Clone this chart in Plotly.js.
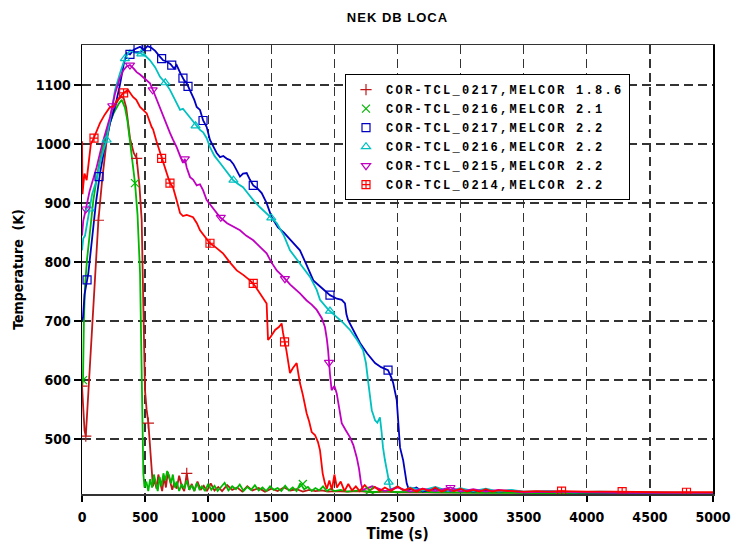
<!DOCTYPE html>
<html>
<head>
<meta charset="utf-8">
<script src="https://cdn.plot.ly/plotly-3.0.1.min.js"></script>
<style>
  html, body { margin: 0; padding: 0; background: #fff; }
  #chart { width: 731px; height: 546px; }
  .legendtext { letter-spacing: 2.3px; }
  .gtitle { letter-spacing: 1px; }
</style>
</head>
<body>
<div id="chart"></div>
<script>
// ---- data: [time (s), temperature (K)] ----
const seriesNames = [
  "COR-TCL_0217,MELCOR 1.8.6",
  "COR-TCL_0216,MELCOR 2.1",
  "COR-TCL_0217,MELCOR 2.2",
  "COR-TCL_0216,MELCOR 2.2",
  "COR-TCL_0215,MELCOR 2.2",
  "COR-TCL_0214,MELCOR 2.2"
];

const tcl0217_m186 = [[0,590],[10,560],[20,515],[30,505],[45,560],[60,615],[80,690],[100,760],[130,871],[160,940],[195,1005],[230,1045],[260,1065],[290,1076],[310,1080],[330,1078],[350,1062],[380,1010],[410,985],[433,976],[455,930],[473,871],[485,740],[499,583],[512,550],[526,527],[540,485],[552,442],[562,420],[575,432],[590,416],[605,440],[620,424],[635,412],[650,436],[665,418],[680,444],[697,430],[715,414],[730,426],[750,416],[770,438],[790,420],[810,412],[830,442],[850,414],[870,424],[890,412],[915,428],[940,414],[965,421],[990,412],[1020,425],[1050,413],[1080,419],[1110,412],[1150,422],[1190,414],[1230,418],[1270,411],[1310,420],[1350,413],[1400,417],[1450,411],[1500,416],[1550,412],[1600,418],[1650,413],[1700,415],[1750,411],[1800,414],[1850,412],[1900,413],[1950,411],[2000,412],[2100,411],[2200,412],[2300,410],[2400,411],[2500,410],[2700,410],[2900,409],[3100,410],[3300,409],[3500,409],[3700,409],[3900,408],[4100,409],[4300,408],[4500,408],[4700,408],[5000,408]];

const tcl0216_m21 = [[0,588],[8,600],[15,700],[24,760],[40,805],[60,850],[90,905],[130,960],[170,1000],[210,1030],[250,1052],[290,1068],[315,1075],[340,1062],[360,1040],[380,1005],[400,972],[420,934],[440,880],[460,781],[473,612],[486,442],[495,418],[510,428],[525,412],[540,432],[555,418],[570,440],[585,425],[600,412],[615,436],[630,420],[645,442],[660,430],[675,446],[690,438],[705,425],[720,440],[735,418],[750,428],[770,412],[790,424],[810,416],[830,430],[850,414],[870,422],[890,412],[910,426],[930,415],[950,420],[975,412],[1000,424],[1025,414],[1050,421],[1075,412],[1100,418],[1130,426],[1160,413],[1190,420],[1220,415],[1250,423],[1280,412],[1310,419],[1340,414],[1370,422],[1400,413],[1430,418],[1460,412],[1490,420],[1520,414],[1550,417],[1580,412],[1610,421],[1640,413],[1670,418],[1700,412],[1730,425],[1760,415],[1790,419],[1820,412],[1850,417],[1880,413],[1910,420],[1940,412],[1970,416],[2000,412],[2050,414],[2100,411],[2200,413],[2300,410],[2400,412],[2500,410],[2600,411],[2800,410],[3000,409],[3200,409],[3400,409],[3600,408],[3800,408],[4000,408],[4200,408],[4400,408],[4600,408],[4800,408],[5000,408]];

const tcl0217_m22 = [[0,700],[8,707],[20,745],[50,781],[80,840],[110,900],[143,951],[180,995],[222,1036],[262,1063],[300,1100],[330,1135],[354,1154],[380,1152],[410,1160],[440,1163],[460,1165],[490,1160],[520,1166],[552,1163],[580,1158],[610,1150],[643,1142],[670,1140],[700,1136],[730,1128],[750,1134],[780,1120],[810,1108],[830,1103],[860,1090],[890,1075],[909,1063],[935,1058],[960,1040],[988,1029],[1014,1007],[1040,995],[1067,985],[1094,978],[1120,980],[1150,975],[1173,973],[1200,966],[1230,955],[1252,945],[1276,950],[1305,951],[1330,940],[1357,930],[1390,925],[1424,917],[1463,900],[1503,876],[1553,859],[1600,850],[1650,838],[1690,828],[1727,820],[1780,795],[1833,769],[1880,760],[1920,752],[1965,744],[2020,738],[2058,736],[2084,730],[2095,712],[2108,702],[2150,685],[2203,663],[2260,645],[2322,629],[2370,622],[2425,617],[2450,605],[2466,595],[2494,566],[2508,530],[2520,486],[2545,464],[2573,425],[2590,414],[2650,418],[2700,411],[2800,416],[2900,412],[3000,415],[3100,411],[3200,414],[3300,411],[3400,413],[3500,410],[3700,411],[3900,410],[4100,410],[4300,409],[4500,409],[4700,409],[5000,409]];

const tcl0216_m22 = [[0,820],[10,840],[24,845],[50,880],[80,915],[116,939],[150,975],[195,1007],[230,1050],[262,1092],[301,1120],[340,1145],[380,1159],[420,1155],[460,1154],[500,1150],[539,1142],[580,1130],[618,1114],[660,1104],[697,1092],[740,1075],[777,1058],[800,1060],[830,1052],[870,1040],[909,1029],[935,1024],[960,1020],[988,1010],[1014,995],[1050,980],[1094,968],[1150,952],[1197,939],[1240,932],[1276,927],[1320,915],[1357,905],[1410,893],[1463,883],[1500,875],[1543,866],[1600,845],[1648,820],[1690,808],[1727,798],[1770,785],[1807,775],[1860,753],[1886,736],[1950,720],[2018,707],[2070,697],[2124,685],[2180,668],[2227,651],[2250,629],[2269,595],[2285,570],[2296,549],[2310,540],[2322,532],[2340,528],[2361,537],[2375,510],[2385,486],[2400,465],[2414,447],[2433,425],[2445,414],[2500,420],[2550,412],[2600,418],[2700,413],[2800,419],[2900,412],[3000,417],[3100,412],[3200,416],[3300,411],[3400,414],[3500,411],[3700,412],[3900,410],[4100,411],[4300,410],[4500,410],[4700,409],[5000,409]];

const tcl0215_m22 = [[0,845],[10,870],[24,883],[60,920],[116,961],[160,1000],[222,1046],[262,1086],[300,1112],[327,1125],[355,1132],[380,1134],[410,1128],[433,1122],[460,1118],[483,1114],[510,1108],[539,1103],[565,1090],[592,1075],[620,1060],[643,1046],[670,1032],[697,1019],[720,1008],[750,995],[777,980],[800,968],[815,975],[830,960],[856,944],[880,940],[909,930],[935,932],[959,922],[988,905],[1014,898],[1050,888],[1094,876],[1150,866],[1200,860],[1252,854],[1300,845],[1357,837],[1410,826],[1463,815],[1500,800],[1543,786],[1595,775],[1650,762],[1727,747],[1780,735],[1820,728],[1860,719],[1900,705],[1925,690],[1940,670],[1950,651],[1965,610],[1978,583],[2000,590],[2018,578],[2040,550],[2058,527],[2090,515],[2124,503],[2150,490],[2177,469],[2195,450],[2211,425],[2225,414],[2300,420],[2400,412],[2500,418],[2600,411],[2700,416],[2800,412],[2920,418],[3000,411],[3100,415],[3200,411],[3300,414],[3400,412],[3500,410],[3700,411],[3900,410],[4100,410],[4300,409],[4500,409],[4700,409],[5000,409]];

const tcl0214_m22 = [[0,1005],[4,915],[10,930],[20,950],[37,939],[55,975],[70,1000],[87,1007],[110,1020],[143,1036],[180,1050],[222,1063],[246,1063],[280,1075],[325,1086],[364,1092],[404,1080],[430,1075],[460,1063],[513,1052],[552,1029],[563,1025],[590,1005],[618,985],[645,968],[671,951],[697,934],[721,927],[750,905],[777,883],[800,878],[830,880],[880,876],[910,866],[935,854],[970,845],[1014,832],[1060,825],[1117,815],[1170,800],[1226,786],[1280,778],[1331,769],[1370,760],[1410,747],[1450,735],[1463,730],[1474,668],[1490,672],[1530,685],[1560,690],[1582,696],[1593,680],[1620,650],[1648,612],[1670,620],[1701,629],[1715,610],[1727,595],[1750,575],[1780,544],[1800,530],[1820,512],[1846,507],[1870,495],[1886,481],[1907,442],[1925,425],[1940,416],[1960,430],[1980,414],[2000,440],[2020,418],[2050,428],[2080,412],[2110,424],[2140,413],[2170,420],[2200,412],[2240,422],[2280,413],[2320,419],[2360,412],[2400,418],[2450,412],[2500,420],[2550,413],[2600,417],[2650,411],[2700,416],[2750,412],[2800,418],[2850,411],[2900,415],[2950,412],[3000,416],[3050,411],[3100,414],[3150,411],[3200,415],[3250,411],[3300,413],[3400,412],[3500,411],[3600,412],[3700,411],[3800,412],[3900,411],[4000,411],[4200,411],[4400,410],[4600,410],[4800,410],[5000,410]];

// marker positions seen on each curve
const mk0217_m186 = [[0,590],[30,505],[130,871],[433,976],[526,527],[830,442]];
const mk0216_m21 = [[8,600],[420,934],[1750,424],[2280,413]];
const mk0217_m22 = [[40,770],[135,945],[380,1152],[444,1163],[513,1165],[631,1145],[711,1134],[800,1112],[840,1098],[959,1040],[1357,930],[1965,744],[2425,617]];
const mk0216_m22 = [[60,890],[195,1007],[340,1145],[470,1153],[660,1104],[900,1031],[1200,939],[1500,875],[1965,717],[2430,427]];
const mk0215_m22 = [[30,890],[240,1065],[380,1134],[560,1092],[815,975],[1100,876],[1608,772],[1957,630],[2920,418]];
const mk0214_m22 = [[95,1010],[330,1087],[631,976],[697,934],[1014,832],[1357,764],[1605,665],[3800,412],[4280,411],[4790,410]];

const xTicks = [0,500,1000,1500,2000,2500,3000,3500,4000,4500,5000];
const yTicks = [500,600,700,800,900,1000,1100];

// ---- styling ----
const curves = [tcl0217_m186, tcl0216_m21, tcl0217_m22, tcl0216_m22, tcl0215_m22, tcl0214_m22];
const marks  = [mk0217_m186, mk0216_m21, mk0217_m22, mk0216_m22, mk0215_m22, mk0214_m22];
const colors = ['#c01818', '#00b800', '#0000c0', '#00c0c0', '#c000c0', '#ff0000'];
const symbols = ['cross-thin-open', 'x-thin-open', 'square-open', 'triangle-up-open', 'triangle-down-open', 'square-cross-open'];

const traces = [];
curves.forEach((c, i) => {
  traces.push({
    x: c.map(p => p[0]), y: c.map(p => p[1]),
    type: 'scatter', mode: 'lines',
    line: {color: colors[i], width: 1.8},
    showlegend: false, hoverinfo: 'skip'
  });
});
marks.forEach((m, i) => {
  traces.push({
    x: m.map(p => p[0]), y: m.map(p => p[1]),
    type: 'scatter', mode: 'markers', name: seriesNames[i],
    marker: {symbol: symbols[i], size: 8, color: colors[i], line: {color: colors[i], width: 1.2}},
    showlegend: true
  });
});

const narrow = 'Liberation Sans Narrow, DejaVu Sans Condensed, Arial Narrow, sans-serif';
const tickFont = {family: narrow, size: 14, color: '#000', weight: 'bold'};

const layout = {
  width: 731, height: 546,
  margin: {l: 82, r: 18, t: 45, b: 52, pad: 0},
  paper_bgcolor: '#fff', plot_bgcolor: '#fff',
  title: {
    text: 'NEK DB LOCA',
    font: {family: 'Liberation Sans, Arial, sans-serif', size: 13, color: '#000', weight: 'bold'},
    x: 0.5, xref: 'paper', xanchor: 'center',
    y: 1 - 17/546, yref: 'container', yanchor: 'middle'
  },
  xaxis: {
    range: [0, 5000], tickvals: xTicks, ticktext: xTicks.map(String),
    tickfont: tickFont, ticks: 'outside', ticklen: 6, tickwidth: 1.5, tickcolor: '#000',
    ticklabeloverflow: 'allow', ticklabelstandoff: 4,
    showline: true, linecolor: '#333', linewidth: 1.5, mirror: true,
    showgrid: true, gridcolor: '#333', gridwidth: 1.3, griddash: '9px,5px',
    zeroline: false,
    title: {text: 'Time (s)', standoff: 4,
      font: {family: narrow, size: 15, color: '#000', weight: 'bold'}}
  },
  yaxis: {
    range: [407, 1168], tickvals: yTicks, ticktext: yTicks.map(String),
    tickfont: tickFont, ticks: 'outside', ticklen: 7, tickwidth: 1.5, tickcolor: '#000',
    showline: true, linecolor: '#000', linewidth: 1.5, mirror: true,
    showgrid: true, gridcolor: '#333', gridwidth: 1.3, griddash: '9px,5px',
    zeroline: false,
    title: {text: 'Temperature  (K)', standoff: 8,
      font: {family: narrow, size: 14, color: '#000', weight: 'bold'}}
  },
  legend: {
    x: (345 - 82) / 631, y: 0.935, xanchor: 'left', yanchor: 'top',
    bgcolor: '#fff', bordercolor: '#000', borderwidth: 1,
    font: {family: 'Liberation Mono, Courier New, monospace', size: 12, color: '#000', weight: 'bold'},
    itemwidth: 30, tracegroupgap: 0
  },
  showlegend: true
};

Plotly.newPlot('chart', traces, layout, {staticPlot: true, displayModeBar: false});
</script>
</body>
</html>
